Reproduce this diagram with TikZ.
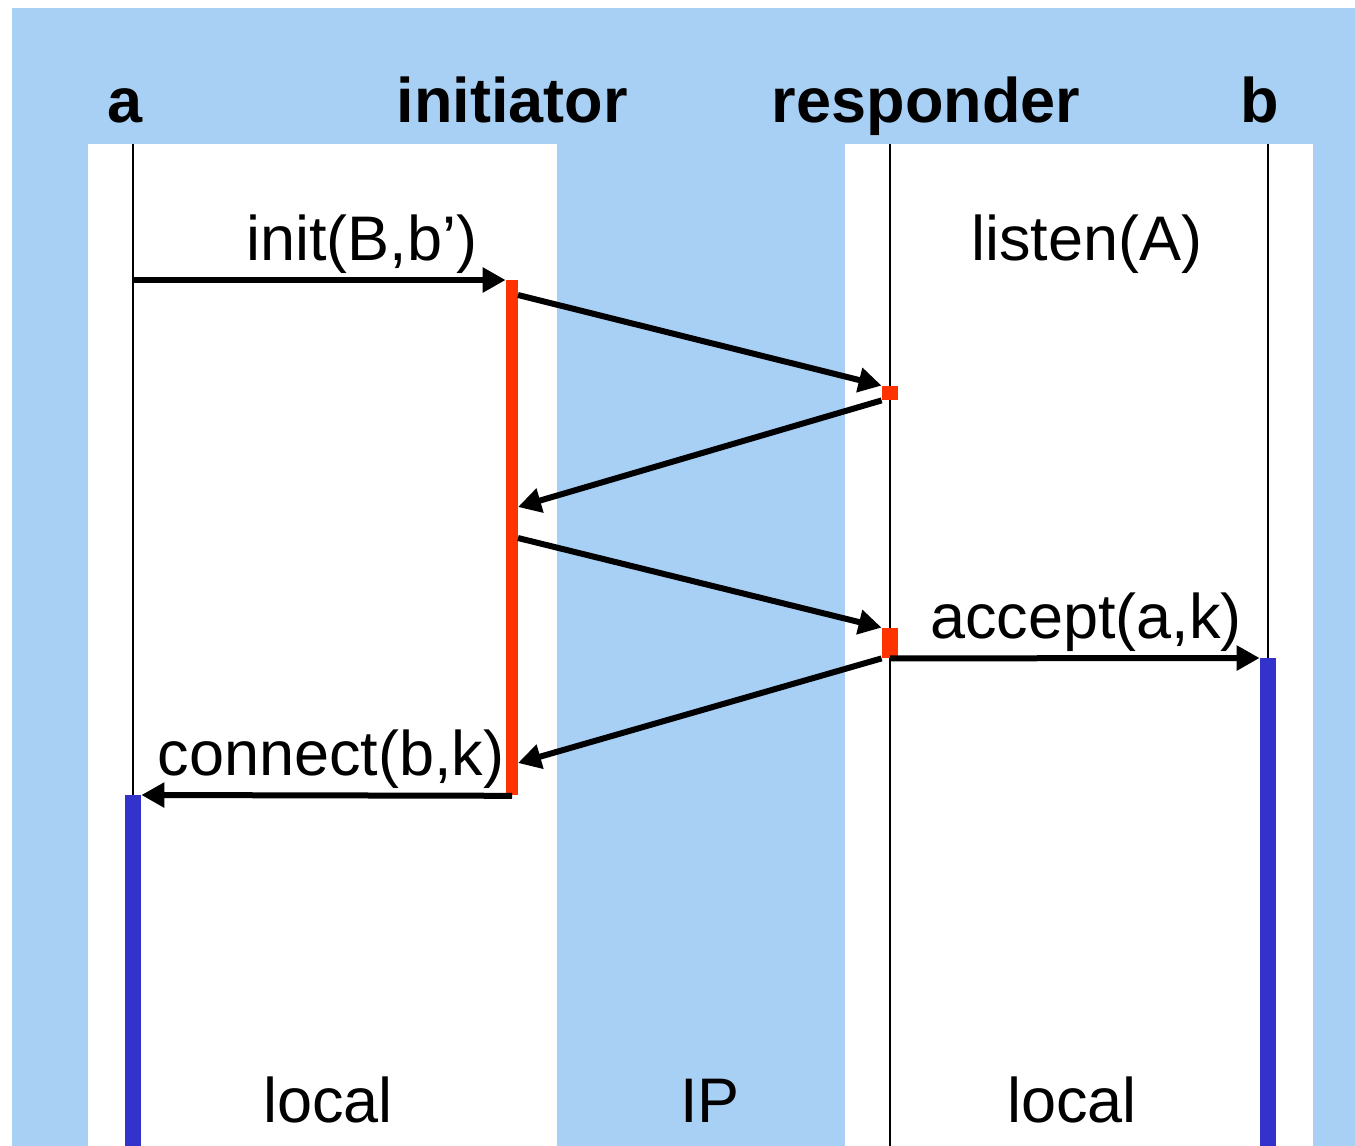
\documentclass[tikz,border=0pt]{standalone}
\usepackage{fontspec}
\setmainfont{Liberation Sans}
\usetikzlibrary{arrows.meta}
\definecolor{bgblue}{RGB}{168,208,245}
\definecolor{actred}{RGB}{255,51,0}
\definecolor{actblue}{RGB}{51,51,204}
\begin{document}
\begin{tikzpicture}[x=0.5pt,y=-0.5pt,
  lbl/.style={anchor=base,inner sep=0pt,font=\fontsize{31.5}{36}\selectfont},
  head/.style={anchor=base,inner sep=0pt,font=\fontsize{31.5}{36}\selectfont\bfseries},
  msg/.style={line width=3pt,-{Triangle[length=11.5pt,width=12pt]}},
  life/.style={line width=1pt},
  redbar/.style={fill=actred,draw=none,inner sep=0pt,minimum width=6pt},
  redbox/.style={fill=actred,draw=none,inner sep=0pt,minimum width=8pt},
  bluebar/.style={fill=actblue,draw=none,inner sep=0pt,minimum width=8pt,anchor=north}]
\useasboundingbox (0,0) rectangle (1355,1146);
% background
\fill[white] (0,0) rectangle (1355,1146);
\fill[bgblue] (12,8) rectangle (1355,1146);
\fill[white] (88,144) rectangle (557,1146);
\fill[white] (845,144) rectangle (1313,1146);
% headings
\node[head] (ha) at (125,122) {a};
\node[head] (hi) at (512,122) {initiator};
\node[head] (hr) at (926,122) {responder};
\node[head] (hb) at (1260,122) {b};
% lifelines
\coordinate (atop) at (133,144);
\coordinate (abot) at (133,795);
\coordinate (rtop) at (890,144);
\coordinate (rbot) at (890,1146);
\coordinate (btop) at (1268,144);
\coordinate (bbot) at (1268,658);
\draw[life] (atop) -- (abot);
\draw[life] (rtop) -- (rbot);
\draw[life] (btop) -- (bbot);
% activation bars
\node[redbar,minimum height=257.5pt,anchor=north] (ini) at (512,280) {};
\node[redbox,minimum height=7pt] (r1) at (890,393) {};
\node[redbox,minimum height=15pt] (r2) at (890,643) {};
\node[bluebar,minimum height=175.5pt] (ba) at (133,795) {};
\node[bluebar,minimum height=244pt] (bb) at (1268,658) {};
% message endpoints
\coordinate (a1) at (133,280);
\coordinate (i2) at (518,295);
\coordinate (i3) at (518,507);
\coordinate (i4) at (518,538);
\coordinate (i5) at (518,763);
% messages
\draw[msg] (a1) -- (ini.north west);
\draw[msg] (i2) -- (r1.north west);
\draw[msg] (r1.south west) -- (i3);
\draw[msg] (i4) -- (r2.north west);
\draw[msg] (r2.south west) -- (i5);
\draw[msg] (r2.south) -- (bb.north west);
\draw[msg] (ini.south) -- (ba.north east);
% labels
\node[lbl] (l1) at (362,260) {init(B,b’)};
\node[lbl] (l2) at (1087,260) {listen(A)};
\node[lbl] (l3) at (1086,638) {accept(a,k)};
\node[lbl] (l4) at (331,775) {connect(b,k)};
\node[lbl] (l5) at (328,1122) {local};
\node[lbl] (l6) at (710,1122) {IP};
\node[lbl] (l7) at (1072,1122) {local};
\end{tikzpicture}
\end{document}
